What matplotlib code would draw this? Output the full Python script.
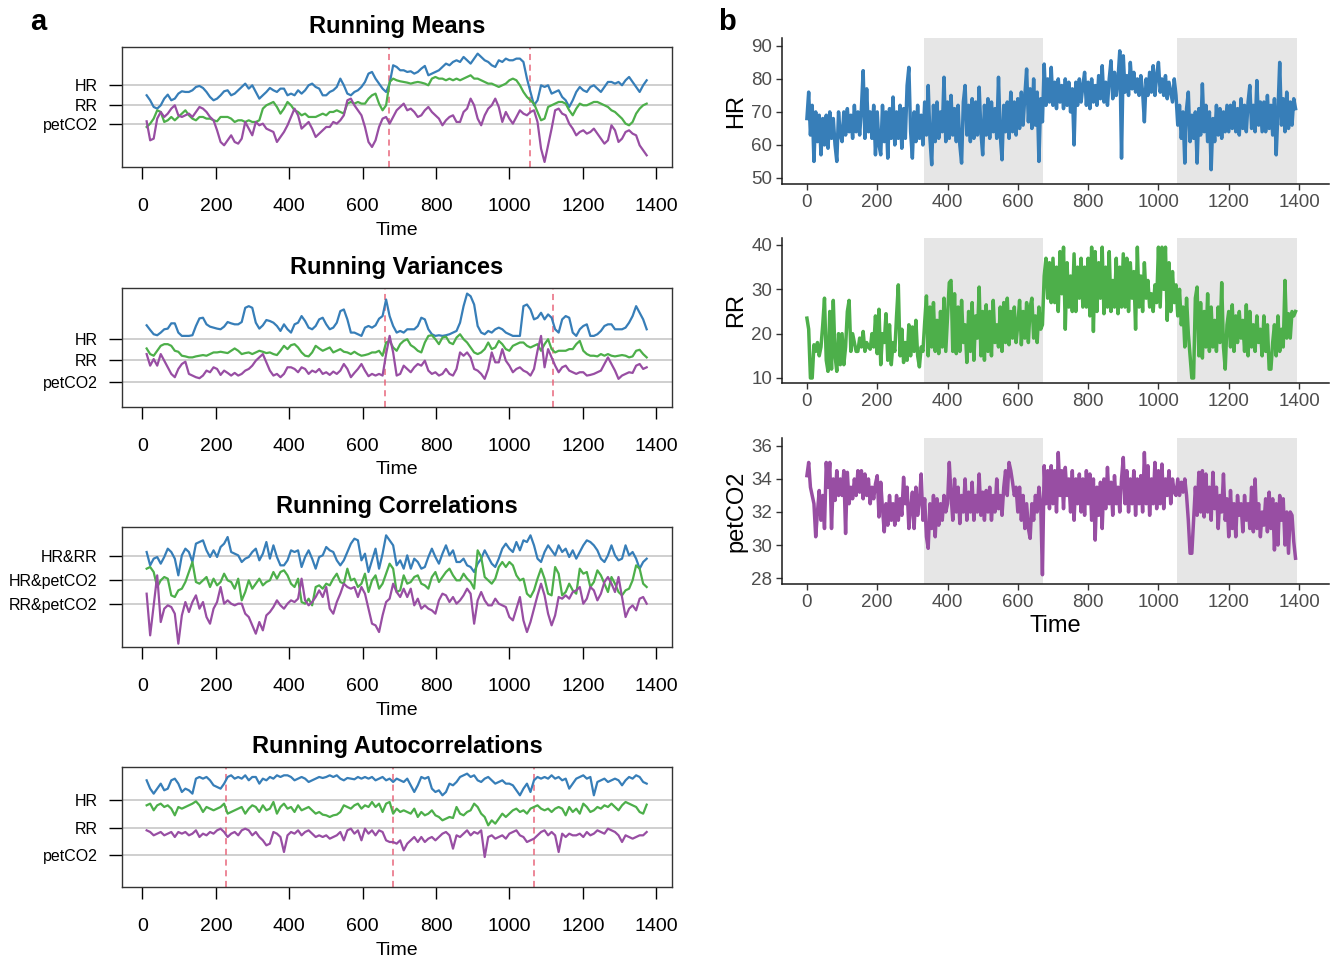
import numpy as np
import matplotlib
matplotlib.use("Agg")
import matplotlib.pyplot as plt

plt.rcParams["font.family"] = ["Liberation Sans", "DejaVu Sans"]

# Set1 colours
COL_HR = "#377EB8"
COL_RR = "#4DAF4A"
COL_CO2 = "#984EA3"
COL_CUT = "#E8677C"

# === PANEL a: running statistics (stacked, arbitrary offset units) ===
time_a = np.linspace(11.5, 1374, 143)

mean_hr = [215, 200, 180, 175, 185, 205, 217, 200, 205, 220,
           227, 225, 225, 230, 240, 243, 237, 225, 210, 200,
           205, 215, 227, 230, 215, 220, 230, 240, 250, 235,
           245, 225, 205, 215, 225, 237, 230, 225, 235, 235,
           215, 220, 215, 230, 220, 230, 245, 250, 240, 235,
           215, 215, 225, 230, 240, 265, 245, 220, 215, 225,
           230, 240, 255, 280, 285, 265, 250, 235, 225, 250,
           305, 300, 290, 290, 285, 287, 280, 285, 295, 303,
           275, 280, 285, 290, 300, 310, 305, 315, 320, 315,
           330, 320, 310, 325, 340, 330, 320, 315, 305, 300,
           320, 315, 325, 320, 320, 325, 325, 315, 265, 225,
           185, 200, 245, 240, 245, 220, 225, 230, 210, 200,
           180, 200, 225, 240, 230, 225, 240, 245, 235, 225,
           240, 255, 255, 250, 255, 245, 260, 270, 255, 240,
           225, 245, 260]
mean_rr = [120, 130, 145, 170, 165, 135, 140, 150, 140, 150,
           160, 170, 155, 145, 140, 150, 150, 145, 145, 140,
           137, 150, 150, 150, 145, 135, 140, 140, 135, 140,
           135, 135, 140, 175, 185, 190, 195, 180, 160, 175,
           195, 185, 170, 165, 155, 160, 150, 150, 150, 155,
           160, 155, 165, 165, 170, 165, 160, 190, 195, 190,
           195, 190, 190, 205, 215, 220, 190, 170, 185, 255,
           265, 260, 257, 255, 253, 250, 253, 255, 253, 250,
           245, 265, 270, 265, 265, 260, 265, 260, 265, 260,
           265, 270, 275, 265, 265, 260, 255, 250, 250, 245,
           240, 245, 250, 260, 265, 260, 245, 225, 210, 200,
           190, 165, 140, 145, 180, 185, 190, 195, 195, 190,
           170, 155, 175, 190, 185, 185, 190, 195, 195, 190,
           185, 180, 170, 165, 155, 145, 130, 125, 135, 160,
           175, 185, 190]
mean_co2 = [137, 80, 85, 145, 165, 150, 160, 175, 185, 155,
            150, 155, 160, 150, 165, 180, 175, 165, 150, 140,
            110, 75, 65, 80, 95, 75, 70, 85, 135, 115,
            95, 135, 125, 130, 115, 110, 105, 75, 90, 105,
            125, 150, 175, 155, 115, 125, 135, 115, 90, 100,
            110, 120, 120, 135, 130, 140, 155, 200, 205, 185,
            170, 155, 120, 75, 60, 80, 120, 145, 150, 130,
            150, 170, 180, 190, 170, 175, 165, 150, 155, 170,
            180, 165, 155, 145, 125, 140, 150, 155, 135, 135,
            165, 175, 205, 185, 145, 125, 155, 175, 185, 205,
            180, 135, 165, 145, 130, 150, 170, 160, 155, 165,
            170, 135, 55, 15, 65, 115, 170, 175, 160, 155,
            130, 115, 95, 105, 110, 100, 105, 115, 100, 85,
            70, 80, 125, 110, 75, 85, 105, 110, 100, 95,
            65, 50, 35]

var_hr = [247, 233, 220, 217, 225, 235, 237, 253, 253, 225,
          215, 215, 215, 217, 245, 268, 270, 250, 243, 240,
          237, 235, 243, 257, 253, 250, 250, 257, 300, 305,
          300, 255, 237, 247, 263, 260, 255, 245, 230, 250,
          235, 225, 250, 255, 275, 260, 240, 235, 245, 265,
          270, 250, 235, 240, 255, 290, 295, 265, 225, 225,
          220, 215, 240, 245, 240, 247, 267, 275, 325, 275,
          245, 225, 230, 225, 235, 235, 235, 245, 270, 265,
          235, 220, 215, 217, 215, 217, 220, 225, 230, 255,
          305, 343, 335, 310, 245, 225, 220, 230, 225, 235,
          240, 235, 225, 220, 215, 215, 215, 305, 310, 295,
          265, 270, 285, 265, 280, 270, 235, 225, 265, 275,
          270, 225, 215, 235, 245, 250, 215, 215, 220, 230,
          245, 250, 250, 235, 235, 235, 240, 255, 275, 305,
          285, 265, 235]
var_rr = [177, 160, 155, 170, 185, 190, 190, 185, 170, 167,
          155, 153, 150, 150, 153, 155, 157, 155, 160, 165,
          165, 167, 165, 163, 170, 177, 170, 160, 163, 165,
          160, 165, 170, 167, 163, 165, 160, 157, 170, 185,
          175, 187, 190, 180, 165, 155, 153, 165, 185, 177,
          170, 175, 180, 165, 170, 175, 167, 165, 160, 167,
          160, 155, 157, 160, 165, 165, 170, 155, 195, 200,
          180, 170, 190, 200, 205, 187, 180, 170, 165, 195,
          215, 217, 205, 190, 210, 213, 195, 190, 210, 220,
          205, 195, 180, 165, 160, 165, 175, 195, 175, 180,
          200, 190, 175, 170, 185, 190, 195, 195, 185, 180,
          185, 190, 170, 190, 205, 175, 165, 170, 170, 170,
          175, 175, 190, 200, 170, 160, 155, 155, 153, 160,
          155, 160, 155, 153, 155, 157, 155, 150, 153, 170,
          173, 160, 150]
var_co2 = [160, 125, 145, 125, 160, 140, 120, 100, 90, 115,
           130, 137, 100, 95, 90, 87, 95, 110, 105, 120,
           115, 97, 110, 103, 95, 103, 95, 100, 110, 115,
           125, 140, 150, 160, 135, 110, 95, 100, 90, 100,
           120, 120, 115, 105, 120, 115, 100, 110, 105, 115,
           100, 105, 97, 107, 100, 110, 130, 115, 90, 103,
           115, 130, 110, 93, 100, 95, 100, 95, 160, 215,
           165, 95, 100, 125, 115, 105, 120, 130, 125, 140,
           110, 100, 105, 95, 100, 115, 100, 95, 115, 165,
           155, 165, 150, 115, 110, 100, 85, 115, 165, 135,
           135, 175, 140, 125, 105, 115, 120, 110, 105, 95,
           115, 170, 215, 120, 175, 150, 125, 105, 120, 125,
           110, 105, 100, 105, 105, 95, 97, 100, 105, 110,
           130, 150, 130, 110, 85, 95, 100, 105, 103, 125,
           130, 115, 120]

corr_hr_rr = [285, 245, 265, 270, 250, 270, 295, 285, 265, 215,
              275, 295, 285, 255, 310, 315, 320, 290, 270, 290,
              270, 300, 310, 330, 285, 280, 275, 255, 265, 270,
              285, 295, 260, 280, 315, 265, 305, 270, 245, 245,
              260, 290, 285, 290, 240, 270, 290, 265, 235, 270,
              275, 300, 290, 285, 260, 245, 260, 285, 310, 325,
              320, 260, 280, 225, 260, 295, 235, 280, 335, 320,
              305, 245, 260, 235, 275, 235, 265, 255, 235, 240,
              270, 295, 270, 250, 280, 305, 275, 290, 255, 255,
              265, 245, 240, 225, 250, 265, 290, 270, 250, 240,
              265, 295, 310, 295, 285, 315, 290, 320, 315, 335,
              305, 265, 255, 285, 305, 290, 275, 305, 285, 295,
              270, 290, 265, 285, 305, 320, 315, 305, 290, 265,
              255, 275, 305, 275, 260, 265, 305, 275, 285, 265,
              235, 255, 265]
corr_hr_co2 = [235, 240, 225, 180, 200, 210, 205, 155, 150, 170,
               175, 195, 225, 255, 195, 190, 200, 210, 180, 205,
               185, 195, 220, 200, 195, 175, 205, 140, 165, 200,
               175, 190, 205, 185, 195, 200, 225, 205, 225, 230,
               215, 190, 180, 205, 135, 130, 145, 125, 180, 185,
               175, 190, 185, 205, 220, 195, 190, 235, 200, 205,
               180, 190, 220, 165, 200, 215, 175, 190, 220, 250,
               235, 165, 170, 215, 190, 195, 210, 215, 190, 185,
               175, 210, 225, 195, 210, 225, 235, 215, 200, 200,
               220, 205, 195, 175, 290, 270, 210, 200, 190, 205,
               240, 255, 240, 255, 245, 215, 200, 205, 160, 150,
               170, 205, 235, 205, 160, 155, 240, 220, 155, 165,
               190, 170, 160, 235, 220, 225, 180, 195, 230, 215,
               190, 165, 210, 190, 165, 155, 170, 175, 200, 245,
               235, 190, 180]
corr_rr_co2 = [160, 35, 125, 215, 75, 115, 125, 120, 100, 10,
               95, 135, 105, 135, 155, 115, 135, 90, 70, 115,
               135, 180, 130, 140, 130, 125, 130, 130, 100, 90,
               65, 40, 75, 50, 95, 105, 120, 140, 125, 115,
               130, 140, 135, 145, 205, 140, 125, 135, 150, 170,
               150, 180, 115, 100, 135, 160, 190, 180, 175, 180,
               150, 180, 160, 115, 70, 65, 45, 95, 135, 145,
               190, 165, 150, 175, 150, 175, 125, 145, 115, 125,
               115, 110, 100, 140, 160, 155, 135, 150, 130, 140,
               155, 175, 160, 70, 140, 165, 140, 125, 125, 145,
               130, 125, 120, 90, 80, 115, 150, 80, 45, 75,
               115, 155, 190, 155, 100, 65, 95, 150, 145, 155,
               145, 165, 170, 180, 130, 145, 180, 170, 140, 160,
               195, 210, 190, 165, 210, 150, 90, 115, 125, 110,
               145, 150, 130]

acf_hr = [320, 295, 280, 295, 310, 290, 295, 320, 325, 310,
          285, 295, 290, 280, 325, 330, 325, 330, 320, 305,
          300, 295, 310, 330, 335, 325, 330, 325, 335, 320,
          330, 330, 310, 325, 320, 330, 325, 335, 330, 335,
          335, 330, 320, 325, 330, 325, 315, 320, 325, 330,
          327, 330, 335, 330, 335, 325, 320, 327, 325, 323,
          330, 325, 330, 325, 330, 320, 325, 330, 320, 325,
          315, 325, 320, 315, 325, 305, 285, 305, 330, 325,
          330, 295, 285, 290, 275, 285, 310, 305, 315, 330,
          335, 340, 330, 335, 320, 315, 325, 330, 320, 310,
          315, 320, 310, 310, 305, 290, 275, 295, 310, 285,
          320, 330, 325, 330, 325, 335, 325, 330, 320, 325,
          295, 310, 325, 330, 335, 325, 330, 275, 315, 320,
          325, 315, 320, 325, 320, 305, 320, 330, 325, 335,
          330, 315, 310]
acf_rr = [245, 250, 230, 245, 250, 240, 245, 235, 215, 240,
          235, 240, 245, 250, 257, 245, 225, 240, 235, 230,
          235, 240, 250, 220, 225, 230, 235, 240, 220, 235,
          245, 240, 225, 245, 230, 235, 255, 220, 240, 250,
          235, 240, 225, 245, 230, 235, 240, 230, 220, 225,
          217, 215, 210, 215, 217, 225, 245, 240, 235, 245,
          250, 235, 245, 240, 255, 240, 250, 225, 250, 255,
          220, 235, 225, 230, 225, 220, 235, 210, 225, 215,
          220, 230, 215, 210, 200, 205, 210, 207, 240, 220,
          215, 225, 230, 250, 240, 220, 210, 185, 200, 190,
          205, 220, 210, 220, 230, 235, 225, 230, 220, 235,
          240, 245, 235, 230, 235, 225, 235, 240, 235, 215,
          240, 225, 235, 220, 250, 240, 225, 230, 240, 235,
          245, 240, 250, 240, 230, 245, 255, 250, 245, 240,
          225, 220, 247]
acf_co2 = [170, 165, 155, 160, 165, 155, 160, 165, 150, 165,
           160, 165, 155, 160, 170, 150, 160, 155, 165, 160,
           170, 175, 165, 150, 160, 165, 155, 170, 175, 170,
           155, 165, 150, 140, 125, 130, 165, 160, 150, 105,
           155, 165, 160, 170, 155, 165, 170, 160, 150, 155,
           150, 155, 145, 150, 155, 165, 140, 170, 175, 160,
           170, 140, 175, 160, 170, 155, 170, 165, 140, 135,
           135, 130, 140, 110, 130, 140, 150, 135, 150, 135,
           145, 150, 140, 150, 160, 165, 155, 115, 155, 150,
           160, 170, 155, 165, 160, 170, 90, 150, 155, 145,
           150, 155, 145, 160, 165, 170, 155, 150, 135, 140,
           145, 155, 165, 170, 155, 165, 155, 105, 160, 150,
           160, 155, 155, 160, 150, 165, 155, 160, 170, 165,
           160, 175, 170, 165, 155, 135, 155, 150, 145, 150,
           155, 155, 165]

labels_single = ["HR", "RR", "petCO2"]
labels_pairs = ["HR&RR", "HR&petCO2", "RR&petCO2"]
levels_mean = [247, 187, 129]
levels_var = [205, 141, 76]
levels_corr = [274, 202, 130]
levels_acf = [262, 178, 95]
breaks_mean = [671, 1055]
breaks_var = [660, 1120]
breaks_corr = []
breaks_acf = [228, 682, 1066]

# === PANEL b: raw series, one sample every 5 time units ===
time_b = np.arange(0, 1391, 5)
hr = [68, 76, 63, 72, 55, 70, 61, 69, 57, 68, 60, 69, 59, 70, 62, 68, 60, 55, 70, 63,
      61, 70, 63, 71, 64, 69, 62, 72, 64, 70, 63, 71, 82.5, 62, 77, 64, 70, 62, 72, 57,
      70, 60, 57, 72, 61, 70, 56, 71, 62, 74.5, 60, 70, 62, 72, 59, 71, 62, 78, 83.5, 64,
      56, 70, 61, 72, 62, 69, 60, 73, 63, 78, 62, 54, 72, 61, 73, 62, 70, 64, 80.5, 61,
      73, 62, 75, 63, 71, 61, 72, 60, 54.5, 73, 78, 63, 72, 61, 74, 62, 73, 63, 77.5, 64,
      57, 72, 63, 74, 62, 73, 64, 71, 62, 80.5, 63, 55.5, 72, 64, 73, 62, 76, 64, 73, 63,
      74, 65, 76, 66, 75, 83, 67, 77, 65, 80, 66, 76, 55, 74, 67, 84.5, 72, 80, 73, 83.5,
      72, 79, 71, 80, 73, 78, 71, 80, 72, 79, 70, 77, 60, 79, 72, 80, 73, 78, 82, 72,
      79, 71, 80, 73, 78, 72, 81, 74, 84, 73, 79, 72, 80, 85.5, 74, 82, 75, 80, 88.5, 56,
      87, 76, 81, 75, 85, 77, 82, 76, 80, 75, 81, 76, 67, 80, 75, 82, 76, 84, 75, 81,
      85, 76, 80, 75, 81, 74, 79, 76, 73, 80, 75, 66, 72, 62, 70, 54.5, 71, 76, 61, 69,
      62, 70, 54.5, 71, 63, 78.5, 64, 72, 61, 70, 52.5, 68, 61, 72, 63, 71, 62, 70, 64, 72,
      64, 72, 65, 73, 64, 71, 63, 74, 65, 72, 64, 73, 78, 65, 72, 64, 79.5, 66, 73, 64,
      73, 64, 75, 65, 72, 63, 74, 57, 70, 85, 66, 74, 64, 76, 65, 73, 66, 74, 71]
rr = [23.5, 21, 10, 10, 17.5, 16, 18, 15, 17, 22, 28, 14, 11.5, 25, 12, 27.5, 15, 11.5, 20, 13,
      20, 13, 17, 25, 27.5, 16, 20, 18, 16, 16, 19, 17, 20.5, 16, 18, 17, 16.5, 20, 17, 24,
      15.5, 25.5, 13, 20, 18, 24.5, 14, 22, 13, 18, 16, 24, 31, 15, 21, 13.5, 18, 14, 22, 15,
      21.5, 16, 23, 15, 12.5, 17, 16, 22.5, 28.5, 15, 26, 17, 27, 16, 23, 15.5, 25, 17, 28, 16,
      24, 31.5, 32, 16, 29, 15.5, 26, 16, 27.5, 18, 22, 13.5, 25, 16, 27, 14, 24, 19, 30.5, 15,
      25, 14, 26.5, 16, 25, 15, 27.5, 18, 22, 17, 26, 16, 27, 18, 28, 17.5, 25, 19, 26, 18,
      22, 27.5, 17.5, 25, 19, 27, 18, 26, 28, 19, 24, 18, 26, 21, 22, 33, 37, 28, 36, 27,
      37, 27, 35, 25, 38.5, 29, 39.5, 21, 36, 26, 33, 25, 38, 25, 35, 28, 37, 26, 35, 26,
      37, 24, 39.5, 20.5, 38.5, 25, 36, 28, 39.5, 24.5, 35, 26, 38.5, 25, 32, 26, 37, 24.5, 35, 26,
      38, 26, 37, 25, 36, 28, 34, 21, 39.5, 26, 33, 25, 36, 28, 32, 26, 29, 25, 31, 27,
      39.5, 26, 39.5, 30, 39.5, 23, 36, 25, 34, 27, 31, 24, 30, 22, 26, 17, 28, 20, 15, 10,
      10, 28, 30.5, 15, 27, 14.5, 25, 17, 29, 16, 26, 17, 23, 16, 26, 18, 31.5, 17, 12, 22,
      25, 17, 26.5, 16, 24, 18, 25, 19, 23, 16, 26.5, 15, 25, 17, 22, 16, 24, 18, 21, 15,
      24, 16, 22, 12, 12, 18, 22, 15, 24, 16, 21, 17, 32, 19, 24.5, 19, 25, 24, 25]
co2 = [34.2, 35, 33.5, 33, 32.5, 30.5, 32, 33.3, 31.5, 33, 31, 35, 33.5, 35, 31, 34, 32.7, 34.5, 33, 34,
       33, 34.5, 30.7, 34.4, 32.5, 33.5, 32.8, 34, 33, 34.5, 33.2, 34.5, 32.8, 34.3, 33, 34, 32.5, 33.5, 32.8, 33.7,
       34.2, 31.7, 33.8, 32.2, 30.8, 32.5, 31.2, 33, 31.5, 32.5, 31.2, 33, 31.5, 32.8, 31.8, 34.1, 32.5, 33.5, 31, 32.2,
       33.2, 31, 33.5, 31.8, 32.7, 34.3, 31.5, 32.8, 30.5, 29.8, 32.5, 31, 33, 30.5, 32.8, 31.2, 32.5, 31.5, 33, 32,
       32.5, 35, 33, 31.5, 34, 32, 33.5, 31.3, 33, 32, 34, 31.5, 33.2, 32, 33.8, 31.5, 33, 32, 34.3, 31.8,
       33.2, 31.5, 33.3, 32, 33.5, 31.5, 33, 32, 34, 32.2, 33, 31.8, 33.5, 34.5, 33, 35, 34.5, 33.8, 33, 33.5,
       32, 33.5, 31.5, 33, 31, 32.5, 31, 30.4, 32.5, 31.5, 33, 32, 33.5, 32.5, 28.2, 34.8, 32.5, 34.5, 32.2, 34.8,
       32.5, 34.5, 32, 35.6, 33, 34.5, 32.2, 34.7, 33, 34, 32, 34.5, 31.5, 34, 32.5, 34.3, 32, 34, 31.8, 34.5,
       32.5, 34.3, 31.5, 34, 30.3, 33.5, 31.8, 33.8, 31, 34, 32.2, 34.7, 32.5, 33.8, 31.8, 34.2, 32.5, 33.5, 32, 34,
       35.3, 32.5, 34.5, 32, 34, 32.5, 34.5, 31.8, 34, 32.5, 34.2, 32, 35.6, 32.5, 34.8, 31.8, 34, 32.5, 35, 32.2,
       34.5, 32.5, 34.9, 32.2, 34, 33, 34.5, 32.5, 34, 33.2, 33, 34, 33, 33.8, 33.2, 34, 33, 31.5, 29.5, 29.5,
       31.5, 33.5, 31.8, 34.4, 32, 34.5, 31.7, 34.3, 32, 33.5, 31.5, 34.4, 32.2, 33.5, 31, 33, 32, 34.3, 31.5, 32.8,
       30.5, 33.3, 31, 32.5, 30.5, 33, 31.8, 32.5, 30.8, 33, 31.5, 32.5, 31, 33.5, 30.8, 34, 31, 32.5, 30.5, 32,
       31.2, 32.8, 30.8, 33.2, 31, 32.8, 29.7, 32.5, 30, 33, 31.5, 32.8, 30, 32, 29.5, 32, 31.8, 30.2, 29.2]
shade_spans = [(333, 672), (1053, 1393)]


def running_panel(rect, series, levels, labels, breaks, title):
    ax = fig.add_axes(rect)
    ax.set_xlim(-55.7, 1443)
    ax.set_ylim(0, 360)
    for lev in levels:
        ax.axhline(lev, color="#CFCFCF", lw=1.4, zorder=0)
    for b in breaks:
        ax.axvline(b, color=COL_CUT, lw=1.1, ls=(0, (4, 3)), zorder=1)
    for vals, col in zip(series, (COL_HR, COL_RR, COL_CO2)):
        ax.plot(time_a, vals, color=col, lw=1.6, zorder=2)
    ax.set_yticks(levels)
    ax.set_yticklabels(labels)
    ax.set_xticks(range(0, 1401, 200))
    ax.tick_params(axis="x", length=8.5, width=1, pad=14, labelsize=14)
    ax.tick_params(axis="y", length=9.5, width=1, pad=8, labelsize=11.5)
    ax.set_xlabel("Time", fontsize=14)
    ax.xaxis.set_label_coords(0.5, -0.455)
    ax.set_title(title, fontsize=17, fontweight="bold", pad=10)
    for s in ax.spines.values():
        s.set_linewidth(1.0)
        s.set_color("#333333")
    return ax


def raw_panel(rect, values, col, ylim, yticks, ylabel, xlabel=None):
    ax = fig.add_axes(rect)
    for lo, hi in shade_spans:
        ax.axvspan(lo, hi, color="#E6E6E6", lw=0, zorder=0)
    ax.plot(time_b, values, color=col, lw=2.5, zorder=2)
    ax.set_xlim(-71, 1485)
    ax.set_ylim(*ylim)
    ax.set_yticks(yticks)
    ax.set_xticks(range(0, 1401, 200))
    for side in ("top", "right"):
        ax.spines[side].set_visible(False)
    for side in ("left", "bottom"):
        ax.spines[side].set_linewidth(1.1)
        ax.spines[side].set_color("#1A1A1A")
    ax.tick_params(length=4.5, width=1, color="#333333", labelcolor="#4D4D4D",
                   labelsize=13.5, pad=2.5)
    ax.set_ylabel(ylabel, fontsize=17)
    ax.yaxis.set_label_coords(-0.063, 0.5)
    if xlabel:
        ax.set_xlabel(xlabel, fontsize=17)
        ax.xaxis.set_label_coords(0.5, -0.21)
    return ax


fig = plt.figure(figsize=(13.36, 9.58), dpi=100)

L, W, H = 0.0913, 0.4117, 0.1253
running_panel([L, 0.8257, W, H], [mean_hr, mean_rr, mean_co2],
              levels_mean, labels_single, breaks_mean, "Running Means")
running_panel([L, 0.5752, W, 0.1242], [var_hr, var_rr, var_co2],
              levels_var, labels_single, breaks_var, "Running Variances")
running_panel([L, 0.3246, W, H], [corr_hr_rr, corr_hr_co2, corr_rr_co2],
              levels_corr, labels_pairs, breaks_corr, "Running Correlations")
running_panel([L, 0.0741, W, H], [acf_hr, acf_rr, acf_co2],
              levels_acf, labels_single, breaks_acf, "Running Autocorrelations")

LB, WB = 0.5853, 0.4094
raw_panel([LB, 0.808, WB, 0.1524], hr, COL_HR, (48.18, 92.42),
          [50, 60, 70, 80, 90], "HR")
raw_panel([LB, 0.6002, WB, 0.1514], rr, COL_RR, (8.87, 41.58),
          [10, 20, 30, 40], "RR")
raw_panel([LB, 0.3904, WB, 0.1524], co2, COL_CO2, (27.64, 36.48),
          [28, 30, 32, 34, 36], "petCO2", xlabel="Time")

fig.text(38 / 1336, 1 - 22 / 958, "a", fontsize=21, fontweight="bold",
         ha="center", va="center")
fig.text(727 / 1336, 1 - 22 / 958, "b", fontsize=21, fontweight="bold",
         ha="center", va="center")

fig.savefig("out.png", dpi=100)
